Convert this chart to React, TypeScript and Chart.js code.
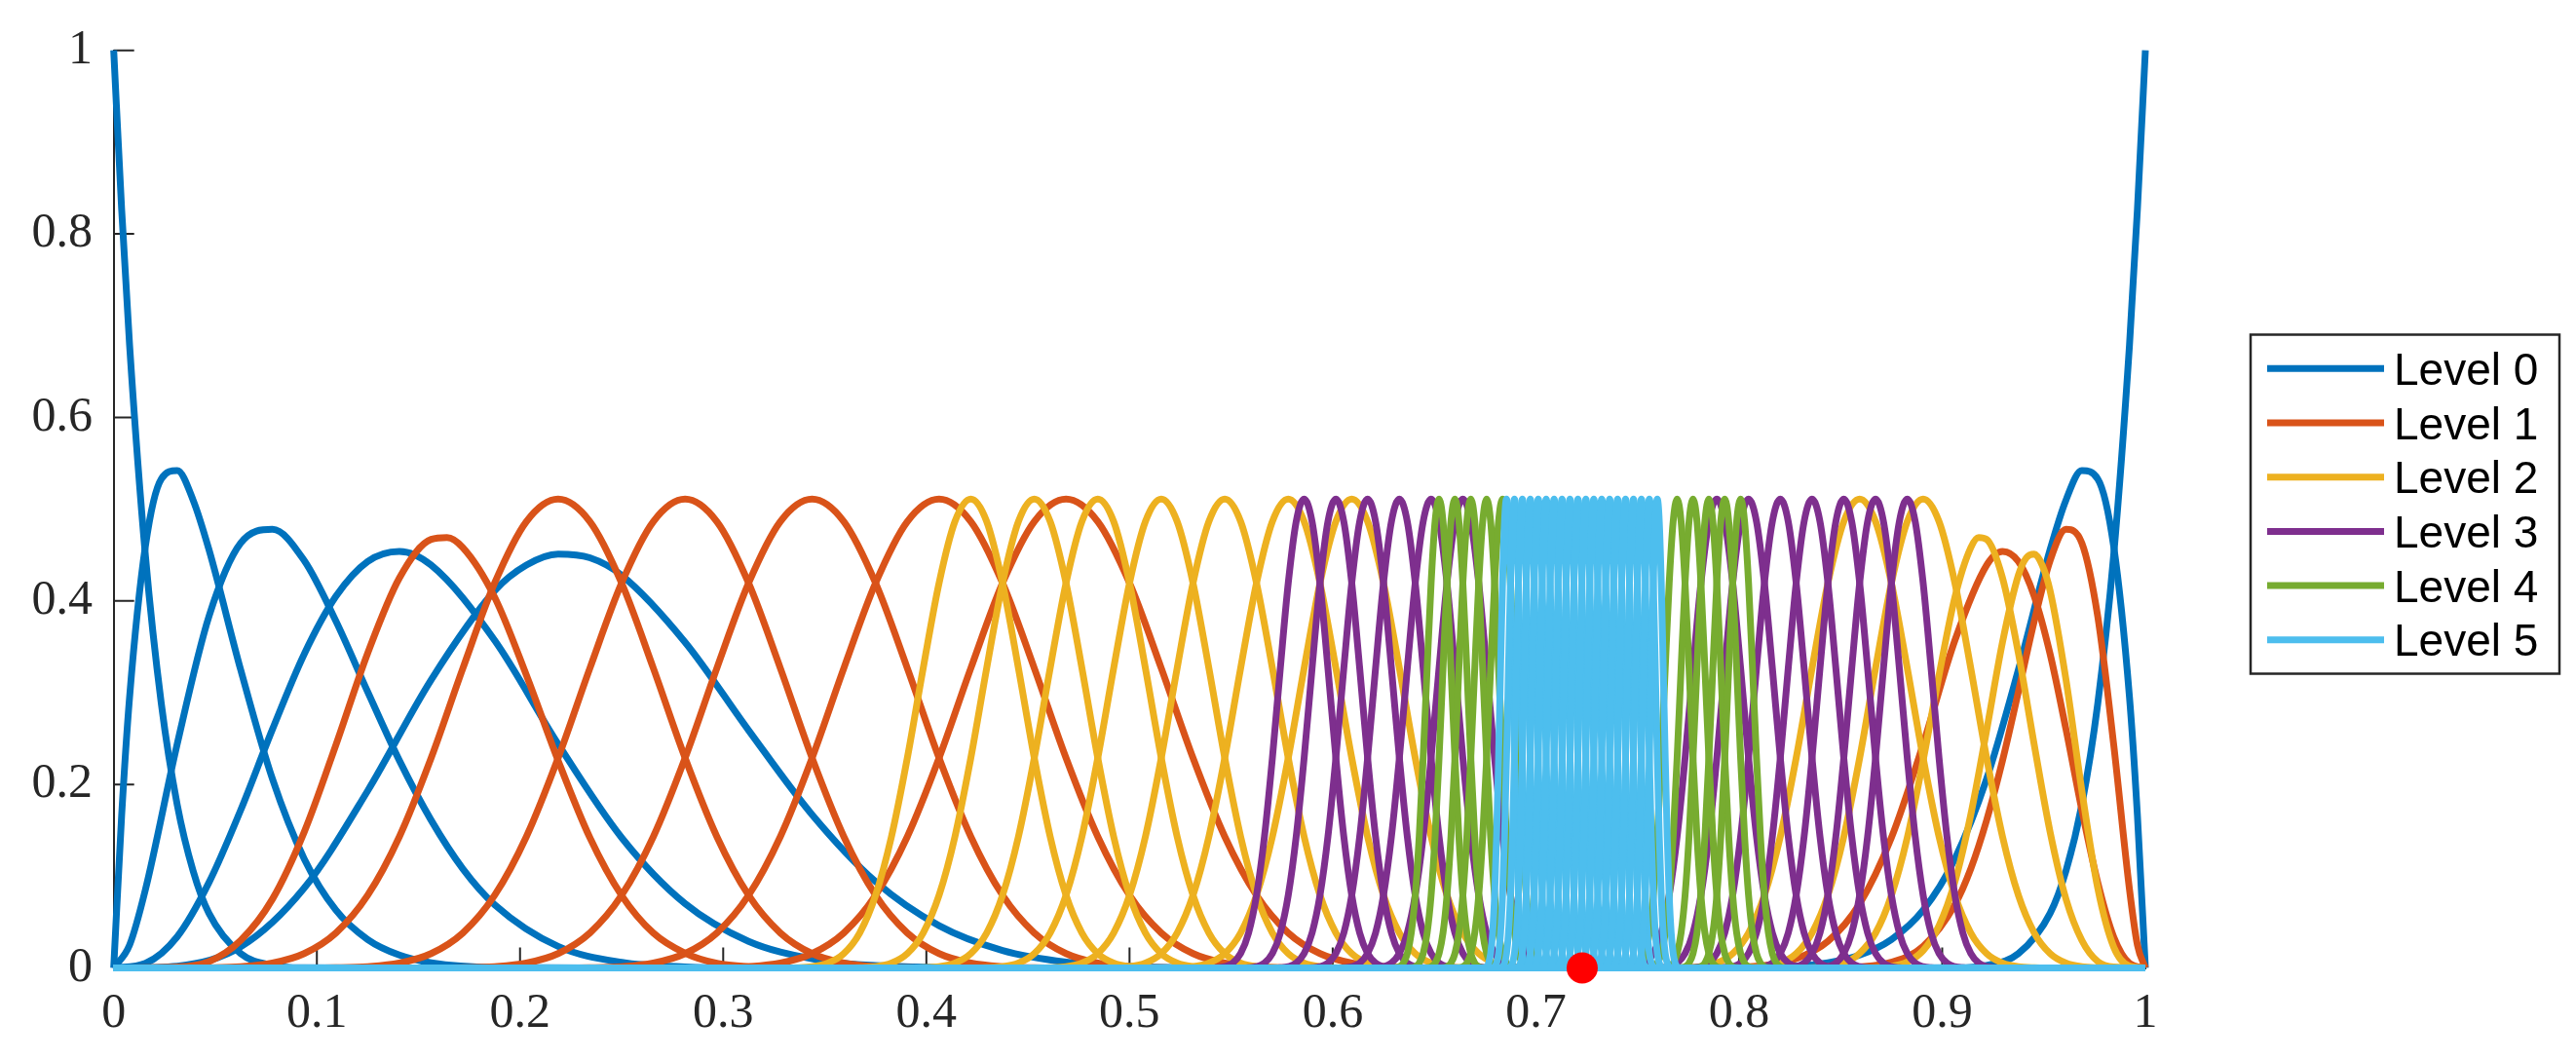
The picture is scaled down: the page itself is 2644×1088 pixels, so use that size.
import React, { useEffect, useRef } from "react";
import { Chart, registerables } from "chart.js";

Chart.register(...registerables);

// ---------------- data ----------------
const LEVEL_LABELS = ["Level 0", "Level 1", "Level 2", "Level 3", "Level 4", "Level 5"];
const LEVEL_COLORS = ["#0072BD", "#D95319", "#EDB120", "#7E2F8E", "#77AC30", "#4DBEEE"];
// knot span of each level
const LEVEL_KNOT_SPANS = [1 / 8, 1 / 16, 1 / 32, 1 / 64, 1 / 128, 1 / 256];

// centres of the interior (uniform) basis functions, counted in knot spans from x = 0
const LEVEL0_CENTRES: number[] = [];
const LEVEL1_CENTRES = [3.5, 4.5, 5.5, 6.5, 7.5];
const LEVEL2_CENTRES = [13.5, 14.5, 15.5, 16.5, 17.5, 18.5, 19.5, 27.5, 28.5];
const LEVEL3_CENTRES = [37.5, 38.5, 39.5, 40.5, 41.5, 42.5, 50.5, 51.5, 52.5, 53.5, 54.5, 55.5, 56.5];
const LEVEL4_CENTRES = [83.5, 84.5, 85.5, 86.5, 87.5, 98.5, 99.5, 100.5, 101.5, 102.5];
const LEVEL5_CENTRES = [
  175.5, 176.5, 177.5, 178.5, 179.5, 180.5, 181.5, 182.5, 183.5, 184.5,
  185.5, 186.5, 187.5, 188.5, 189.5, 190.5, 191.5, 192.5, 193.5, 194.5,
];
const LEVEL_CENTRES = [LEVEL0_CENTRES, LEVEL1_CENTRES, LEVEL2_CENTRES, LEVEL3_CENTRES, LEVEL4_CENTRES, LEVEL5_CENTRES];

// boundary functions used at x = 0 (left) and mirrored at x = 1 (right), by edge-profile id
const LEFT_EDGE_FUNCTIONS = [[0, 1, 2, 3, 4], [5], [], [], [], []];
const RIGHT_EDGE_FUNCTIONS = [[1, 0], [3, 2], [5, 4], [], [], []];

// shape of an interior bump: [offset from centre in knot spans, value]
const BUMP_PROFILE: [number, number][] = [
  [-3.5, 0], [-3.25, 0.0000003], [-3, 0.0000217], [-2.75, 0.000247], [-2.5, 0.001389],
  [-2.25, 0.005296], [-2, 0.015668], [-1.75, 0.038163], [-1.5, 0.079167], [-1.25, 0.143123],
  [-1, 0.228798], [-0.75, 0.32665], [-0.5, 0.419444], [-0.25, 0.486522], [0, 0.511024],
  [0.25, 0.486522], [0.5, 0.419444], [0.75, 0.32665], [1, 0.228798], [1.25, 0.143123],
  [1.5, 0.079167], [1.75, 0.038163], [2, 0.015668], [2.25, 0.005296], [2.5, 0.001389],
  [2.75, 0.000247], [3, 0.0000217], [3.25, 0.0000003], [3.5, 0],
];

// shapes of the boundary functions: [distance from the boundary in knot spans, value]
const EDGE_PROFILE_0: [number, number][] = [
  [0, 1], [0.03125, 0.827], [0.0625, 0.679], [0.125, 0.449], [0.1875, 0.288], [0.25, 0.178],
  [0.3125, 0.106], [0.375, 0.0596], [0.5, 0.0156], [0.625, 0.0028], [0.75, 0.0002], [1, 0],
];
const EDGE_PROFILE_1: [number, number][] = [
  [0, 0], [0.03125, 0.166], [0.0625, 0.295], [0.125, 0.46], [0.1875, 0.533], [0.25, 0.542],
  [0.3125, 0.51], [0.375, 0.456], [0.5, 0.325], [0.625, 0.206], [0.75, 0.119], [0.875, 0.063],
  [1, 0.031], [1.125, 0.014], [1.25, 0.0056], [1.5, 0.0005], [2, 0],
];
const EDGE_PROFILE_2: [number, number][] = [
  [0, 0], [0.0625, 0.025], [0.125, 0.0855], [0.25, 0.244], [0.375, 0.383], [0.5, 0.463],
  [0.625, 0.478], [0.75, 0.444], [0.875, 0.378], [1, 0.301], [1.125, 0.226], [1.25, 0.161],
  [1.375, 0.108], [1.5, 0.069], [1.75, 0.0235], [2, 0.0062], [2.25, 0.0011], [2.5, 0.0001], [3, 0],
];
const EDGE_PROFILE_3: [number, number][] = [
  [0, 0], [0.125, 0.005], [0.25, 0.034], [0.375, 0.093], [0.5, 0.172], [0.625, 0.26],
  [0.75, 0.342], [0.875, 0.405], [1, 0.443], [1.125, 0.454], [1.25, 0.439], [1.5, 0.357],
  [1.75, 0.244], [2, 0.142], [2.25, 0.07], [2.5, 0.029], [2.75, 0.01], [3, 0.0026],
  [3.5, 0.00004], [4, 0],
];
const EDGE_PROFILE_4: [number, number][] = [
  [0, 0], [0.25, 0.002], [0.5, 0.023], [0.75, 0.087], [1, 0.193], [1.25, 0.314], [1.5, 0.411],
  [1.625, 0.439], [1.75, 0.451], [1.875, 0.447], [2, 0.428], [2.25, 0.355], [2.5, 0.259],
  [2.75, 0.167], [3, 0.094], [3.25, 0.046], [3.5, 0.019], [3.75, 0.0064], [4, 0.0017],
  [4.5, 0.00003], [5, 0],
];
const EDGE_PROFILE_5: [number, number][] = [
  [0, 0], [0.5, 0.001], [0.75, 0.007], [1, 0.03], [1.25, 0.075], [1.5, 0.148], [1.75, 0.243],
  [2, 0.343], [2.25, 0.425], [2.5, 0.467], [2.625, 0.469], [2.75, 0.458], [3, 0.404],
  [3.25, 0.319], [3.5, 0.226], [3.75, 0.142], [4, 0.079], [4.25, 0.038], [4.5, 0.016],
  [4.75, 0.005], [5, 0.0014], [5.5, 0.00002], [6, 0],
];
const EDGE_PROFILES = [EDGE_PROFILE_0, EDGE_PROFILE_1, EDGE_PROFILE_2, EDGE_PROFILE_3, EDGE_PROFILE_4, EDGE_PROFILE_5];

// marked point
const RED_POINT_X = [0.7228];
const RED_POINT_Y = [0];

// ticks
const X_TICK_VALUES = [0, 0.1, 0.2, 0.3, 0.4, 0.5, 0.6, 0.7, 0.8, 0.9, 1];
const X_TICK_LABELS = ["0", "0.1", "0.2", "0.3", "0.4", "0.5", "0.6", "0.7", "0.8", "0.9", "1"];
const Y_TICK_VALUES = [0, 0.2, 0.4, 0.6, 0.8, 1];
const Y_TICK_LABELS = ["0", "0.2", "0.4", "0.6", "0.8", "1"];

// ---------------- styling ----------------
const AXIS_COLOR = "#262626";
const LINE_WIDTH = 7;
const TICK_FONT = { family: "'Liberation Serif', 'Times New Roman', serif", size: 50 };

type Pt = { x: number; y: number };

function buildDatasets() {
  const curves: { pts: Pt[]; color: string; label: string }[] = [];
  LEVEL_LABELS.forEach((label, lvl) => {
    const h = LEVEL_KNOT_SPANS[lvl];
    const color = LEVEL_COLORS[lvl];
    LEFT_EDGE_FUNCTIONS[lvl].forEach((id) => {
      const pts = EDGE_PROFILES[id].map(([u, y]) => ({ x: u * h, y }));
      pts.push({ x: 1, y: 0 });
      curves.push({ pts, color, label });
    });
    LEVEL_CENTRES[lvl].forEach((c) => {
      const pts = [{ x: 0, y: 0 }, ...BUMP_PROFILE.map(([t, y]) => ({ x: (c + t) * h, y })), { x: 1, y: 0 }];
      curves.push({ pts, color, label });
    });
    RIGHT_EDGE_FUNCTIONS[lvl].forEach((id) => {
      const pts = EDGE_PROFILES[id].map(([u, y]) => ({ x: 1 - u * h, y })).reverse();
      pts.unshift({ x: 0, y: 0 });
      curves.push({ pts, color, label });
    });
  });
  const n = curves.length;
  const ds: any[] = curves.map((c, i) => ({
    label: c.label,
    data: c.pts,
    borderColor: c.color,
    backgroundColor: c.color,
    borderWidth: LINE_WIDTH,
    pointRadius: 0,
    pointHoverRadius: 0,
    fill: false,
    cubicInterpolationMode: "monotone",
    borderJoinStyle: "round",
    clip: false,
    order: n - i + 1,
  }));
  ds.push({
    label: "point",
    data: RED_POINT_X.map((x, i) => ({ x, y: RED_POINT_Y[i] })),
    showLine: false,
    pointRadius: 16,
    pointHoverRadius: 16,
    pointBackgroundColor: "#FF0000",
    pointBorderWidth: 0,
    borderColor: "#FF0000",
    clip: false,
    order: 0,
  });
  return ds;
}

const inwardTicks = {
  id: "inwardTicks",
  beforeDatasetsDraw(chart: any) {
    const { ctx, chartArea: a, scales } = chart;
    ctx.save();
    ctx.strokeStyle = AXIS_COLOR;
    ctx.lineWidth = 2;
    ctx.beginPath();
    scales.x.ticks.forEach((t: any) => {
      const px = scales.x.getPixelForValue(t.value);
      ctx.moveTo(px, a.bottom);
      ctx.lineTo(px, a.bottom - 21);
    });
    scales.y.ticks.forEach((t: any) => {
      const py = scales.y.getPixelForValue(t.value);
      ctx.moveTo(a.left, py);
      ctx.lineTo(a.left + 21, py);
    });
    ctx.stroke();
    ctx.restore();
  },
};

const boxLegend = {
  id: "boxLegend",
  afterDraw(chart: any) {
    const ctx = chart.ctx;
    const left = 2310, top = 343.5, right = 2627, bottom = 691.5;
    const firstRow = 378.3, rowStep = 55.7;
    ctx.save();
    ctx.fillStyle = "#ffffff";
    ctx.fillRect(left, top, right - left, bottom - top);
    ctx.strokeStyle = AXIS_COLOR;
    ctx.lineWidth = 2.5;
    ctx.strokeRect(left, top, right - left, bottom - top);
    ctx.font = "46px 'Liberation Sans', Arial, sans-serif";
    ctx.textBaseline = "alphabetic";
    ctx.textAlign = "left";
    LEVEL_LABELS.forEach((label, i) => {
      const y = firstRow + i * rowStep;
      ctx.strokeStyle = LEVEL_COLORS[i];
      ctx.lineWidth = LINE_WIDTH;
      ctx.lineCap = "butt";
      ctx.beginPath();
      ctx.moveTo(2327, y);
      ctx.lineTo(2447, y);
      ctx.stroke();
      ctx.fillStyle = "#000000";
      ctx.fillText(label, 2457, y + 16.5);
    });
    ctx.restore();
  },
};

export default function App() {
  const ref = useRef<HTMLCanvasElement | null>(null);
  useEffect(() => {
    if (!ref.current) return;
    const chart = new Chart(ref.current, {
      type: "line",
      data: { datasets: buildDatasets() },
      options: {
        responsive: false,
        animation: false,
        devicePixelRatio: 1,
        events: [],
        layout: { padding: { top: 41.5, right: 442, bottom: 0, left: 0 } },
        plugins: { legend: { display: false }, tooltip: { enabled: false }, title: { display: false } },
        scales: {
          x: {
            type: "linear",
            min: 0,
            max: 1,
            grid: { display: false, drawTicks: false },
            border: { display: true, color: AXIS_COLOR, width: 2 },
            afterBuildTicks: (s: any) => {
              s.ticks = X_TICK_VALUES.map((value) => ({ value }));
            },
            afterFit: (s: any) => {
              s.height = 94.5;
            },
            ticks: {
              autoSkip: false,
              maxRotation: 0,
              minRotation: 0,
              padding: 17.5,
              color: AXIS_COLOR,
              font: TICK_FONT,
              callback: (_v: any, i: number) => X_TICK_LABELS[i],
            },
          },
          y: {
            type: "linear",
            min: 0,
            max: 1,
            grid: { display: false, drawTicks: false },
            border: { display: true, color: AXIS_COLOR, width: 2 },
            afterBuildTicks: (s: any) => {
              s.ticks = Y_TICK_VALUES.map((value) => ({ value }));
            },
            afterFit: (s: any) => {
              s.width = 116.7;
            },
            ticks: {
              padding: 21.7,
              color: AXIS_COLOR,
              font: TICK_FONT,
              callback: (_v: any, i: number) => Y_TICK_LABELS[i],
            },
          },
        },
      } as any,
      plugins: [inwardTicks, boxLegend],
    });
    return () => chart.destroy();
  }, []);
  return (
    <div style={{ position: "fixed", left: 0, top: 0, width: 2644, height: 1088, background: "#ffffff" }}>
      <canvas ref={ref} width={2644} height={1088} style={{ width: 2644, height: 1088, display: "block" }} />
    </div>
  );
}
